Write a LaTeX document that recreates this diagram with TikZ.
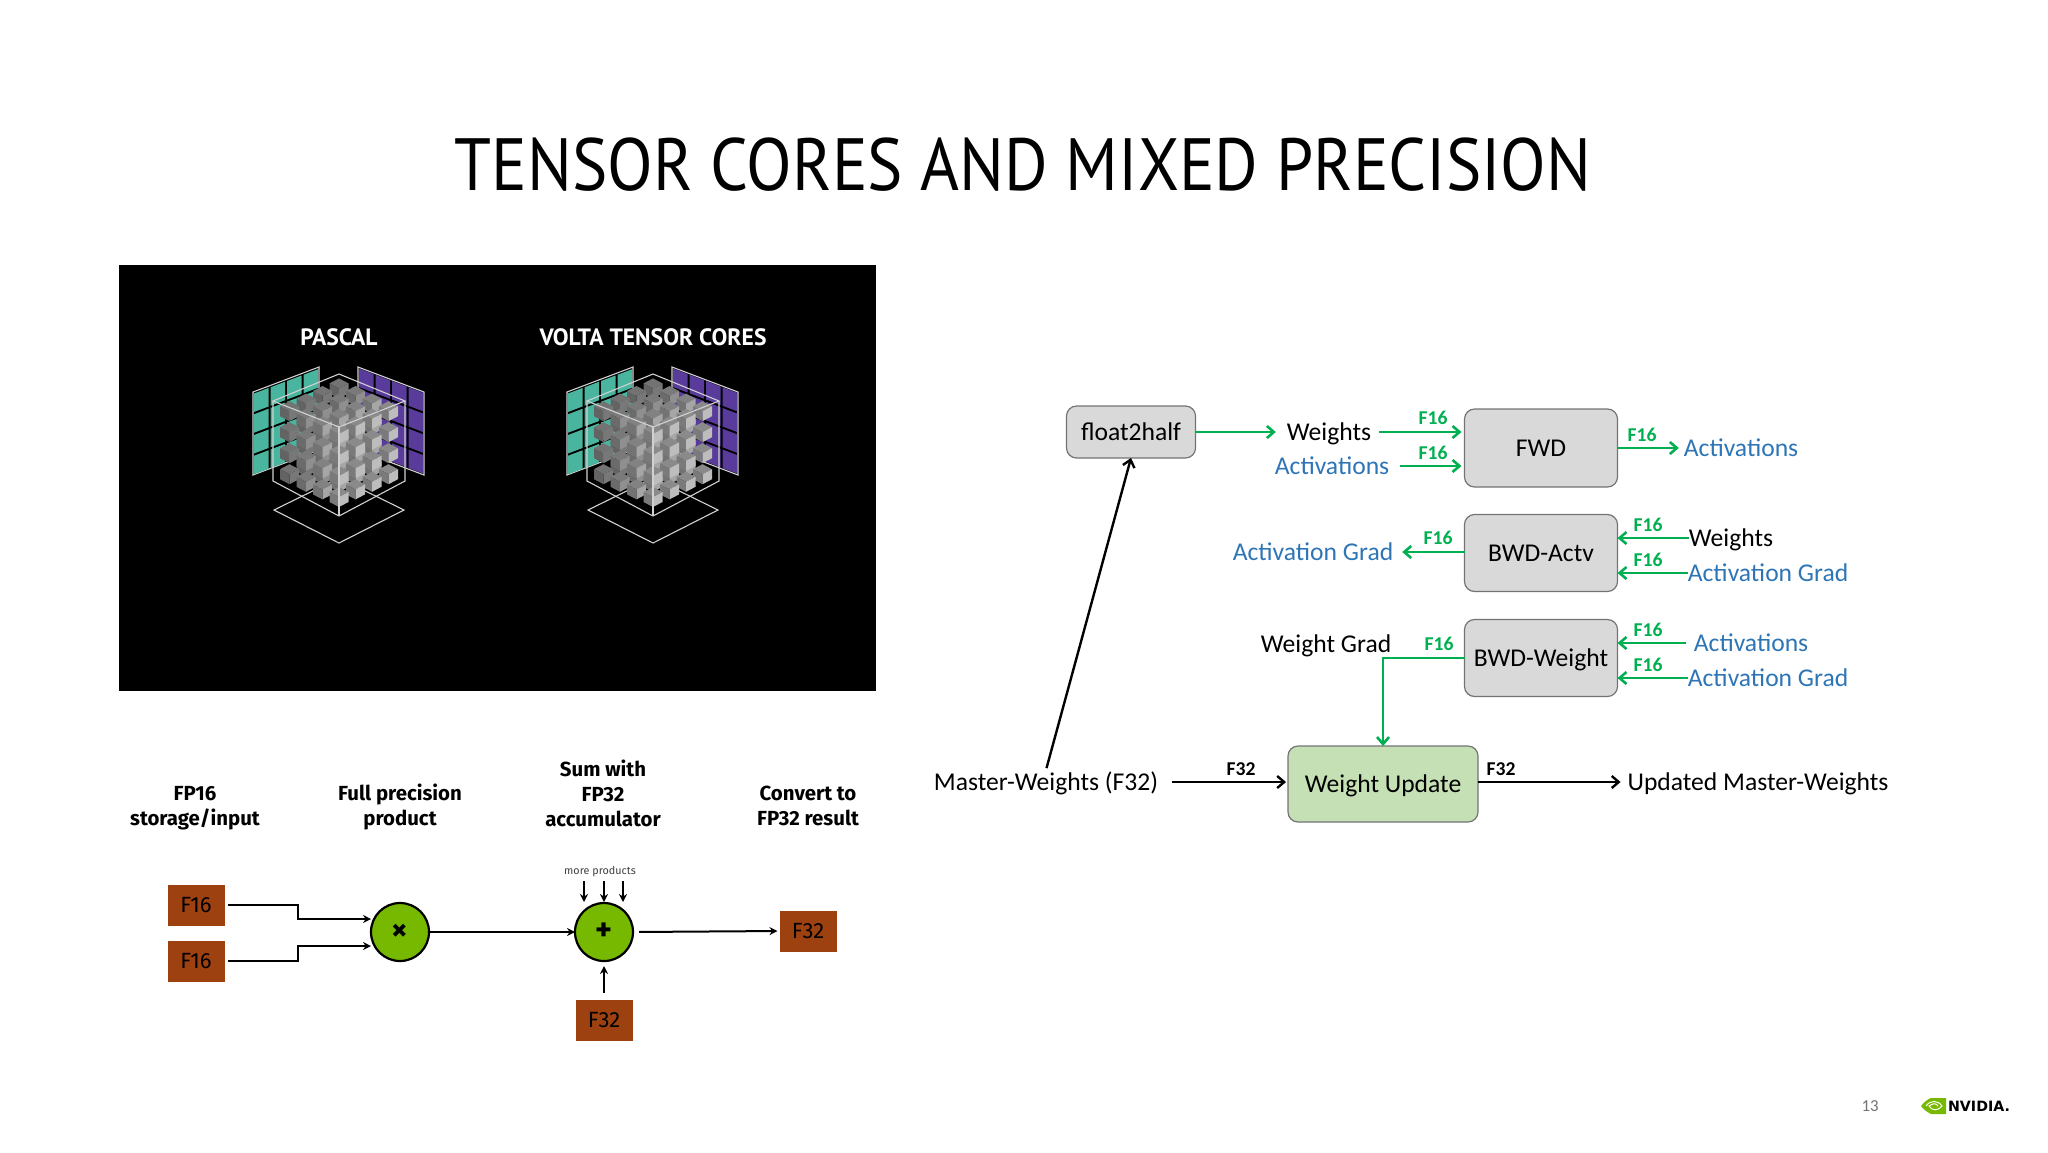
\documentclass[tikz,border=0pt]{standalone}
\usepackage{fontspec}
\usetikzlibrary{arrows.meta}
\newfontfamily\calfont{Carlito}
\newfontfamily\titlefont{PT Sans}
\newfontfamily\flowfont{Fira Sans}
\newfontfamily\logofont{DejaVu Sans}
\newlength{\du}
\setlength{\du}{0.5pt}
\definecolor{dialinecolor}{rgb}{0.000000, 0.000000, 0.000000}
\definecolor{greenlinecolor}{rgb}{0.000000, 0.690000, 0.314000}
\definecolor{bluetextcolor}{rgb}{0.180000, 0.459000, 0.714000}
\definecolor{greyboxcolor}{rgb}{0.851000, 0.851000, 0.851000}
\definecolor{greenboxcolor}{rgb}{0.773000, 0.878000, 0.706000}
\definecolor{brownboxcolor}{rgb}{0.620000, 0.255000, 0.067000}
\definecolor{nvgreencolor}{rgb}{0.463000, 0.725000, 0.000000}
\definecolor{tealcellcolor}{rgb}{0.290000, 0.710000, 0.620000}
\definecolor{purplecellcolor}{rgb}{0.350000, 0.230000, 0.610000}
\tikzset{
  labeltext/.style={inner sep=0pt, outer sep=0pt, text height=10pt, text depth=2pt, font=\calfont\fontsize{12.8}{14}\selectfont},
  bluelabel/.style={labeltext, text=bluetextcolor},
  tagsixteen/.style={inner sep=0pt, outer sep=0pt, text=greenlinecolor, font=\calfont\bfseries\fontsize{9.8}{11}\selectfont},
  tagthirtytwo/.style={inner sep=0pt, outer sep=0pt, text=black, font=\calfont\bfseries\fontsize{9.8}{11}\selectfont},
  greybox/.style={labeltext, draw=black!55, line width=0.6pt, fill=greyboxcolor, rounded corners=5pt},
  updatebox/.style={labeltext, draw=black!55, line width=0.6pt, fill=greenboxcolor, rounded corners=5pt},
  greenline/.style={draw=greenlinecolor, line width=1.3pt, -{Straight Barb[length=3.5pt,width=6pt]}},
  blackline/.style={draw=black, line width=1.2pt, -{Straight Barb[length=3.5pt,width=6pt]}},
  flowline/.style={draw=black, line width=1pt, -{Stealth[length=4pt,width=4pt]}},
  headtext/.style={inner sep=0pt, outer sep=0pt, align=center, font=\flowfont\bfseries\fontsize{10.2}{12.5}\selectfont},
  brownbox/.style={inner sep=0pt, outer sep=0pt, fill=brownboxcolor, minimum width=57\du, minimum height=41\du, font=\flowfont\fontsize{11}{12}\selectfont},
  opcircle/.style={circle, inner sep=0pt, outer sep=0pt, draw=black, line width=1.1pt, fill=nvgreencolor, minimum size=58\du, font=\flowfont\bfseries\fontsize{16}{17}\selectfont},
  wireline/.style={draw=white!82!black, line width=0.55pt},
}
% one panel of 4x4 cells, #1 left x, #2 left top y, #3 slope, #4 colour
\newcommand{\cellpanel}[4]{
\draw[wireline] (#1\du,#2\du)--(#1\du+66\du,#2\du+#3\du*4)--(#1\du+66\du,#2\du+#3\du*4+83\du)--(#1\du,#2\du+83\du)--cycle;
\foreach \iu in {0,1,2,3}{
\foreach \iv in {0,1,2,3}{
\pgfmathsetmacro{\xa}{#1+\iu*16.5+1.0}
\pgfmathsetmacro{\xb}{#1+\iu*16.5+15.5}
\pgfmathsetmacro{\ya}{#2+\iu*#3+\iv*20.75+1.5}
\pgfmathsetmacro{\yb}{#2+(\iu+0.88)*#3+\iv*20.75+1.5}
\fill[#4] (\xa\du,\ya\du)--(\xb\du,\yb\du)--(\xb\du,\yb\du+18.5\du)--(\xa\du,\ya\du+18.5\du)--cycle;
}}
}
% whole cube group, #1 shift in x
\newcommand{\tensorcube}[1]{
\begin{scope}[shift={(#1\du,0\du)}]
\cellpanel{253}{392}{-6.25}{tealcellcolor}
\cellpanel{358}{367}{6.25}{purplecellcolor}
\draw[wireline] (274\du,510\du)--(339\du,478\du)--(404\du,510\du)--(339\du,543\du)--cycle;
\foreach \ia in {3,2,1,0}{
\foreach \ib in {3,2,1,0}{
\foreach \ic in {0,1,2,3}{
\pgfmathsetmacro{\cx}{339+(\ia-\ib)*16.5}
\pgfmathsetmacro{\cy}{497-(\ia+\ib)*7.6-\ic*21}
\pgfmathsetmacro{\pctr}{int(74-\ib*9)}
\pgfmathsetmacro{\pctl}{int(48-\ib*3)}
\pgfmathsetmacro{\pctt}{int(54-\ib*3)}
\fill[white!\pctt!black] (\cx\du,\cy\du-10\du)--(\cx\du+9.5\du,\cy\du-5\du)--(\cx\du,\cy\du+0\du)--(\cx\du-9.5\du,\cy\du-5\du)--cycle;
\fill[white!\pctl!black] (\cx\du-9.5\du,\cy\du-5\du)--(\cx\du,\cy\du+0\du)--(\cx\du,\cy\du+10\du)--(\cx\du-9.5\du,\cy\du+5\du)--cycle;
\fill[white!\pctr!black] (\cx\du+9.5\du,\cy\du-5\du)--(\cx\du,\cy\du+0\du)--(\cx\du,\cy\du+10\du)--(\cx\du+9.5\du,\cy\du+5\du)--cycle;
}}}
\draw[wireline] (273\du,401\du)--(339\du,374\du)--(405\du,401\du)--(339\du,427\du)--cycle;
\draw[wireline] (273\du,401\du)--(273\du,481\du)--(339\du,516\du)--(405\du,481\du)--(405\du,401\du);
\draw[wireline] (339\du,427\du)--(339\du,516\du);
\end{scope}
}

\begin{document}
\begin{tikzpicture}[even odd rule]
\pgftransformxscale{1.000000}
\pgftransformyscale{-1.000000}
\useasboundingbox (0\du,0\du) rectangle (2048\du,1152\du);
\node[inner sep=0pt, outer sep=0pt, font=\titlefont\fontsize{37}{40}\selectfont] (title) at (1023\du,165\du){\scalebox{0.90}[1]{TENSOR CORES AND MIXED PRECISION}};
% black panel
\fill[black] (119\du,265\du)--(876\du,265\du)--(876\du,691\du)--(119\du,691\du)--cycle;
\node[inner sep=0pt, outer sep=0pt, text=white, font=\titlefont\bfseries\fontsize{11.8}{13}\selectfont] (pascal) at (339\du,337\du){PASCAL};
\node[inner sep=0pt, outer sep=0pt, text=white, font=\titlefont\bfseries\fontsize{11.8}{13}\selectfont] (volta) at (653\du,337\du){VOLTA TENSOR CORES};
\tensorcube{0}
\tensorcube{314}
% fused multiply add
\node[headtext] (headfp) at (195\du,808\du){FP16\\storage/input};
\node[headtext] (headfull) at (400\du,807\du){Full precision\\product};
\node[headtext] (headsum) at (603\du,793\du){Sum with\\FP32\\accumulator};
\node[headtext] (headconv) at (808\du,806\du){Convert to\\FP32 result};
\node[brownbox] (fsixa) at (196\du,905\du){F16};
\node[brownbox] (fsixb) at (196\du,961\du){F16};
\node[opcircle] (mul) at (400\du,932\du){×};
\node[opcircle] (add) at (604\du,932\du){+};
\node[brownbox] (fthirtyr) at (808\du,931\du){F32};
\node[brownbox] (fthirtyb) at (604\du,1020\du){F32};
\node[inner sep=0pt, outer sep=0pt, text=black!75, font=\flowfont\fontsize{5.4}{6}\selectfont] (more) at (600\du,872\du){more products};
\coordinate (mulina) at (298\du,919\du);
\coordinate (mulinb) at (298\du,946\du);
\coordinate (morea) at (584\du,881\du);
\coordinate (moreb) at (604\du,881\du);
\coordinate (morec) at (623\du,881\du);
\draw[flowline, shorten <=3\du] (fsixa.east) -| (mulina) -- (mulina -| mul.west);
\draw[flowline, shorten <=3\du] (fsixb.east) -| (mulinb) -- (mulinb -| mul.west);
\draw[flowline] (mul.east) -- (add.west);
\draw[flowline, shorten <=6\du, shorten >=2\du] (add.east) -- (fthirtyr.west);
\draw[flowline, shorten <=7\du, shorten >=5\du] (fthirtyb.north) -- (add.south);
\draw[flowline] (morea) -- (morea |- 0\du,902\du);
\draw[flowline] (moreb) -- (moreb |- 0\du,902\du);
\draw[flowline] (morec) -- (morec |- 0\du,902\du);
% mixed precision flow
\node[greybox, minimum width=129\du, minimum height=52\du] (float2half) at (1131\du,432\du){float2half};
\node[greybox, minimum width=153\du, minimum height=78\du] (fwd) at (1541\du,448\du){FWD};
\node[greybox, minimum width=153\du, minimum height=77\du] (bwdactv) at (1541\du,553\du){BWD-Actv};
\node[greybox, minimum width=153\du, minimum height=77\du] (bwdweight) at (1541\du,658\du){BWD-Weight};
\node[updatebox, minimum width=190\du, minimum height=76\du] (weightupdate) at (1383\du,784\du){Weight Update};
\node[labeltext] (weightsin) at (1329\du,432\du){Weights};
\node[bluelabel] (activin) at (1332\du,466\du){Activations};
\node[bluelabel] (activout) at (1741\du,448\du){Activations};
\node[bluelabel] (agradout) at (1313\du,552\du){Activation Grad};
\node[labeltext] (weightsb) at (1731\du,538\du){Weights};
\node[bluelabel] (agradb) at (1768\du,573\du){Activation Grad};
\node[labeltext] (wgrad) at (1326\du,644\du){Weight Grad};
\node[bluelabel] (activc) at (1751\du,643\du){Activations};
\node[bluelabel] (agradc) at (1768\du,678\du){Activation Grad};
\node[labeltext] (master) at (1046\du,782\du){Master-Weights (F32)};
\node[labeltext] (updated) at (1758\du,782\du){Updated Master-Weights};
\node[tagsixteen] (taga) at (1433\du,418\du){F16};
\node[tagsixteen] (tagb) at (1433\du,453\du){F16};
\node[tagsixteen] (tagc) at (1642\du,435\du){F16};
\node[tagsixteen] (tagd) at (1438\du,538\du){F16};
\node[tagsixteen] (tage) at (1648\du,525\du){F16};
\node[tagsixteen] (tagf) at (1648\du,560\du){F16};
\node[tagsixteen] (tagg) at (1439\du,644\du){F16};
\node[tagsixteen] (tagh) at (1648\du,630\du){F16};
\node[tagsixteen] (tagi) at (1648\du,665\du){F16};
\node[tagthirtytwo] (tagj) at (1241\du,769\du){F32};
\node[tagthirtytwo] (tagk) at (1501\du,769\du){F32};
\draw[greenline, shorten >=11\du] (float2half.east) -- (float2half.east -| weightsin.west);
\draw[greenline, shorten <=8\du, shorten >=3\du] (weightsin.east) -- (weightsin.east -| fwd.west);
\draw[greenline, shorten <=11\du, shorten >=3\du] (activin.east) -- (activin.east -| fwd.west);
\draw[greenline, shorten >=5\du] (fwd.east) -- (activout.west);
\draw[greenline, shorten >=9\du] (bwdactv.west |- agradout.east) -- (agradout.east);
\draw[greenline] (weightsb.west) -- (weightsb.west -| bwdactv.east);
\draw[greenline] (agradb.west) -- (agradb.west -| bwdactv.east);
\draw[greenline, shorten <=8\du] (activc.west) -- (activc.west -| bwdweight.east);
\draw[greenline] (agradc.west) -- (agradc.west -| bwdweight.east);
\draw[greenline] (bwdweight.west) -| (weightupdate.north);
\draw[blackline, shorten <=14\du, shorten >=2\du] (master.east) -- (weightupdate.west |- master.east);
\draw[blackline, shorten >=7\du] (weightupdate.east |- updated.west) -- (updated.west);
\draw[blackline, shorten <=2\du] (master.north) -- (float2half.south);
% page number and logo
\node[inner sep=0pt, outer sep=0pt, text=black!55, font=\calfont\fontsize{8.4}{10}\selectfont] (pagenum) at (1870\du,1106\du){13};
\fill[nvgreencolor] (1931\du,1098\du)--(1946\du,1098\du)--(1946\du,1114\du)--(1931\du,1114\du)..controls (1927\du,1112\du) and (1923\du,1109\du) .. (1921\du,1106\du)..controls (1924\du,1102\du) and (1928\du,1099\du) .. (1931\du,1098\du)--cycle;
\draw[white, line width=0.5pt] (1926\du,1106\du)..controls (1930\du,1100\du) and (1938\du,1100\du) .. (1942\du,1106\du)..controls (1938\du,1111\du) and (1932\du,1111\du) .. (1929\du,1106\du)..controls (1933\du,1103\du) and (1936\du,1103\du) .. (1938\du,1106\du);
\node[inner sep=0pt, outer sep=0pt, text=black, font=\logofont\bfseries\fontsize{7.1}{9}\selectfont] (logotext) at (1979\du,1106\du){NVIDIA.};
\end{tikzpicture}
\end{document}
